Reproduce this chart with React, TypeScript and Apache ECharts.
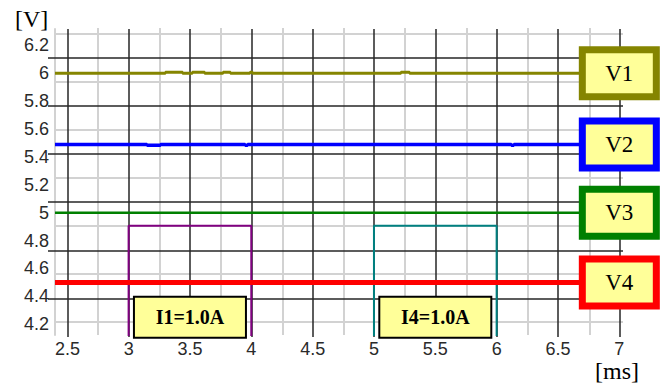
import React, { useEffect, useRef } from "react";
import * as echarts from "echarts";

// Time axis (ms) and voltage axis (V) extents of the plot area
const timeRange = [2.4, 7.03];
const voltRange = [4.123, 6.318];
const voltLabelRange = [4.2, 6.2];
const voltLabelStep = 0.2;
const timeLabelRange = [2.5, 7];
const timeLabelStep = 0.5;
const traceEnd = 7.0;

// Voltage channels
const channelNames = ["V1", "V2", "V3", "V4"];
const channelLevels = [6.0, 5.49, 5.0, 4.5];
const channelColors = ["#858500", "#0000ff", "#008000", "#ff0000"];
const channelWidths = [3, 3.5, 2.5, 5];

// Short glitches on the traces: [start ms, end ms, offset V]
const v1Glitches = [
  [3.3, 3.44, 0.008],
  [3.52, 3.62, 0.008],
  [3.77, 3.83, 0.008],
  [3.99, 4.01, 0.008],
  [5.22, 5.29, 0.008],
];
const v2Glitches = [
  [3.15, 3.26, -0.006],
  [3.95, 3.97, -0.006],
  [6.12, 6.14, -0.006],
];
const v3Glitches: number[][] = [];
const v4Glitches: number[][] = [];
const channelGlitches = [v1Glitches, v2Glitches, v3Glitches, v4Glitches];

// Current pulses (A)
const pulseNames = ["I1=1.0A", "I4=1.0A"];
const pulseStart = [3, 5];
const pulseEnd = [4, 6];
const pulseAmps = [1.0, 1.0];
const pulseBase = [0, 0];
const pulseColors = ["#800080", "#008080"];
const currentRange = [0.2, 2.44];
const pulseLabelLevel = 0.33;

const GRAY = "#d2d2d2";
const DARK = "#262626";
const BOX_FILL = "#ffff99";

function levelTrace(level: number, glitches: number[][]) {
  const pts: number[][] = [[timeRange[0], level]];
  for (const [a, b, d] of glitches) {
    pts.push([a, level], [a, level + d], [b, level + d], [b, level]);
  }
  pts.push([traceEnd, level]);
  return pts;
}

function pulseTrace(i: number) {
  return [
    [pulseStart[i], pulseBase[i]],
    [pulseStart[i], pulseAmps[i]],
    [pulseEnd[i], pulseAmps[i]],
    [pulseEnd[i], pulseBase[i]],
  ];
}

// A framed yellow tag drawn as a markPoint label
function tag(
  text: string,
  coord: number[],
  border: string,
  borderWidth: number,
  w: number,
  h: number,
  fontSize: number,
  fontWeight: string
) {
  return {
    symbol: "rect",
    symbolSize: [1, 1],
    itemStyle: { color: "rgba(0,0,0,0)" },
    silent: true,
    label: {
      show: true,
      position: "inside",
      formatter: text,
      fontFamily: "Liberation Serif",
      fontSize,
      fontWeight,
      color: "#000",
      backgroundColor: BOX_FILL,
      borderColor: border,
      borderWidth,
      width: w,
      height: h,
      lineHeight: h,
      padding: 0,
      align: "center",
      verticalAlign: "middle",
    },
    data: [{ coord }],
    z: 6,
  };
}

export default function App() {
  const ref = useRef<HTMLDivElement>(null);

  useEffect(() => {
    document.body.style.margin = "0";
    if (!ref.current) return;
    const chart = echarts.init(ref.current, undefined, { renderer: "svg" });

    const hiddenX = (gridIndex: number) => ({ type: "value", gridIndex, show: false, min: 0, max: 1 });
    const hiddenY = (gridIndex: number) => ({ type: "value", gridIndex, show: false, min: 0, max: 1 });

    const voltSeries = channelNames.map((name, i) => ({
      name,
      type: "line",
      xAxisIndex: 0,
      yAxisIndex: 0,
      data: levelTrace(channelLevels[i], channelGlitches[i]),
      showSymbol: false,
      symbol: "none",
      lineStyle: { color: channelColors[i], width: channelWidths[i] },
      z: 3,
      markPoint: tag(name, [traceEnd, channelLevels[i]], channelColors[i], 7, 67, 40, 23, "normal"),
    }));

    const pulseSeries = pulseNames.map((name, i) => ({
      name,
      type: "line",
      xAxisIndex: 0,
      yAxisIndex: 1,
      data: pulseTrace(i),
      showSymbol: false,
      symbol: "none",
      lineStyle: { color: pulseColors[i], width: 2 },
      z: 2,
      markPoint: tag(
        name,
        [(pulseStart[i] + pulseEnd[i]) / 2, pulseLabelLevel],
        "#000",
        2,
        110,
        39,
        20,
        "bold"
      ),
    }));

    chart.setOption({
      animation: false,
      backgroundColor: "#fff",
      grid: [
        // 0: data area
        { left: 55, right: 41, top: 29, bottom: 48, outerBoundsMode: "none" },
        // 1: major horizontal rules
        { left: 55, right: 41, top: 57.3, bottom: 84.3, outerBoundsMode: "none" },
        // 2: minor horizontal rules
        { left: 55, right: 41, top: 33.3, bottom: 61, outerBoundsMode: "none" },
        // 3: major vertical rules + time labels
        { left: 67.4, right: 44.7, top: 29, bottom: 46, outerBoundsMode: "none" },
        // 4: minor vertical rules
        { left: 98, right: 74.5, top: 28, bottom: 48, outerBoundsMode: "none" },
        // 5: voltage labels
        { left: 55, right: 41, top: 45.4, bottom: 58.8, outerBoundsMode: "none" },
      ],
      xAxis: [
        { type: "value", gridIndex: 0, show: false, min: timeRange[0], max: timeRange[1] },
        hiddenX(1),
        hiddenX(2),
        {
          type: "value",
          gridIndex: 3,
          min: timeLabelRange[0],
          max: timeLabelRange[1],
          interval: timeLabelStep,
          z: 1,
          axisLine: { show: false },
          axisTick: { show: false },
          splitLine: { show: true, lineStyle: { color: DARK, width: 1.5 } },
          axisLabel: {
            show: true,
            fontFamily: "Liberation Sans",
            fontSize: 18,
            color: "#2a2a2a",
            margin: 3,
          },
        },
        {
          type: "value",
          gridIndex: 4,
          min: 0,
          max: 8,
          interval: 1,
          z: 0,
          axisLine: { show: false },
          axisTick: { show: false },
          axisLabel: { show: false },
          splitLine: { show: true, lineStyle: { color: GRAY, width: 2 } },
        },
        hiddenX(5),
      ],
      yAxis: [
        {
          type: "value",
          gridIndex: 0,
          min: voltRange[0],
          max: voltRange[1],
          z: 0,
          axisLine: { show: true, lineStyle: { color: GRAY, width: 2 } },
          axisTick: { show: false },
          axisLabel: { show: false },
          splitLine: { show: false },
        },
        { type: "value", gridIndex: 0, show: false, min: currentRange[0], max: currentRange[1] },
        {
          type: "value",
          gridIndex: 1,
          min: 0,
          max: 5,
          interval: 1,
          z: 1,
          axisLine: { show: false },
          axisTick: { show: true, length: 7, lineStyle: { color: DARK, width: 1.5 } },
          axisLabel: { show: false },
          splitLine: { show: true, lineStyle: { color: DARK, width: 1.5 } },
        },
        {
          type: "value",
          gridIndex: 2,
          min: 0,
          max: 6,
          interval: 1,
          z: 0,
          axisLine: { show: false },
          axisTick: { show: false },
          axisLabel: { show: false },
          splitLine: { show: true, lineStyle: { color: GRAY, width: 2 } },
        },
        hiddenY(3),
        hiddenY(4),
        {
          type: "value",
          gridIndex: 5,
          min: voltLabelRange[0],
          max: voltLabelRange[1],
          interval: voltLabelStep,
          axisLine: { show: false },
          axisTick: { show: false },
          splitLine: { show: false },
          axisLabel: {
            show: true,
            fontFamily: "Liberation Sans",
            fontSize: 18,
            color: "#2a2a2a",
            margin: 6,
          },
        },
      ],
      graphic: [
        {
          type: "text",
          left: 15,
          top: 7,
          style: { text: "[V]", font: '24px "Liberation Serif"', fill: "#000" },
        },
        {
          type: "text",
          left: 595,
          top: 359,
          style: { text: "[ms]", font: '24px "Liberation Serif"', fill: "#000" },
        },
      ],
      series: [...pulseSeries, ...voltSeries],
    });

    return () => chart.dispose();
  }, []);

  return <div ref={ref} style={{ width: 664, height: 383 }} />;
}
